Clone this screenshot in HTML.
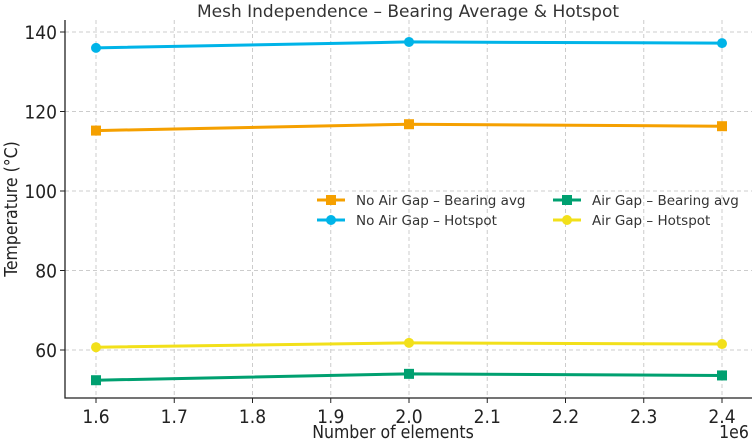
<!DOCTYPE html>
<html><head><meta charset="utf-8"><style>
body{margin:0;background:#fff}
svg{display:block}
.tk{font-family:"DejaVu Sans Condensed","Liberation Sans Narrow","Liberation Sans",sans-serif;font-size:19px;fill:#222}
.lg{font-family:"DejaVu Sans","Liberation Sans",sans-serif;font-size:13.5px;fill:#333}
</style></head><body>
<svg id="c" width="754" height="441" xmlns="http://www.w3.org/2000/svg">
<text x="408" y="17" text-anchor="middle" style="font-family:'DejaVu Sans','Liberation Sans',sans-serif;font-size:17px;fill:#333">Mesh Independence – Bearing Average &amp; Hotspot</text>
<g id="grid"></g><g id="axes"></g><g id="series"></g><g id="legend"></g>
<text x="393" y="438" text-anchor="middle" class="tk" style="font-size:17.5px">Number of elements</text>
<text x="734" y="438" text-anchor="middle" class="tk" style="font-size:17.5px">1e6</text>
<text transform="translate(17,209) rotate(-90)" text-anchor="middle" class="tk" style="font-size:17.5px">Temperature (°C)</text>
</svg>
<script>
const xVals=[1.6,2.0,2.4];
const noGapAvg=[115.2,116.8,116.3];
const noGapHot=[136.0,137.5,137.2];
const gapAvg=[52.4,54.0,53.6];
const gapHot=[60.7,61.8,61.5];
const xTicks=[1.6,1.7,1.8,1.9,2.0,2.1,2.2,2.3,2.4];
const yTicks=[60,80,100,120,140];
const seriesNames=["No Air Gap – Bearing avg","No Air Gap – Hotspot","Air Gap – Bearing avg","Air Gap – Hotspot"];
const NS="http://www.w3.org/2000/svg";
const L=65,R=752,T=20,B=398;
const sx=v=>96+(v-1.6)/0.8*626;
const sy=v=>350-(v-60)*3.975;
function mk(t,a,p){const e=document.createElementNS(NS,t);for(const k in a)e.setAttribute(k,a[k]);p.appendChild(e);return e;}
const grid=document.getElementById('grid'),axes=document.getElementById('axes'),ser=document.getElementById('series'),leg=document.getElementById('legend');
xTicks.forEach(v=>{const x=sx(v);
const g=mk('line',{x1:x,x2:x,y1:T,y2:B,stroke:'#ccc','stroke-dasharray':'4,3','stroke-width':1},grid);


const tk=mk('line',{x1:x,x2:x,y1:B,y2:B+5,stroke:'#222'},axes);


const t=mk('text',{x:x,y:B+25,'text-anchor':'middle',class:'tk'},axes);t.textContent=v.toFixed(1);

});
yTicks.forEach(v=>{const y=sy(v);
const g=mk('line',{x1:L,x2:R,y1:y,y2:y,stroke:'#ccc','stroke-dasharray':'4,3','stroke-width':1},grid);


const tk=mk('line',{x1:L-5,x2:L,y1:y,y2:y,stroke:'#222'},axes);


const t=mk('text',{x:L-8,y:y+7,'text-anchor':'end',class:'tk'},axes);t.textContent=v;

});
const sp=mk('path',{d:`M${L},${T}V${B}H${R}`,fill:'none',stroke:'#222','stroke-width':1.3},axes);


const data=[noGapAvg,noGapHot,gapAvg,gapHot];
const colors=['#f5a000','#00b4e8','#00a070','#f2e01a'];
const markers=['sq','ci','sq','ci'];
function marker(m,x,y,c,p){return m==='sq'?mk('rect',{x:x-5,y:y-5,width:10,height:10,fill:c},p):mk('circle',{cx:x,cy:y,r:5,fill:c},p);}
data.forEach((d,i)=>{
const pl=mk('polyline',{points:d.map((v,j)=>sx(xVals[j])+','+sy(v)).join(' '),fill:'none',stroke:colors[i],'stroke-width':3},ser);


d.forEach((v,j)=>{const m=marker(markers[i],sx(xVals[j]),sy(v),colors[i],ser);

});
const lx=i<2?317:553,ly=i%2===0?200:220;
const ll=mk('line',{x1:lx,x2:lx+28,y1:ly,y2:ly,stroke:colors[i],'stroke-width':3},leg);


const lm=marker(markers[i],lx+14,ly,colors[i],leg);


const t=mk('text',{x:lx+39,y:ly+5,class:'lg'},leg);t.textContent=seriesNames[i];


});
</script>
</body></html>
